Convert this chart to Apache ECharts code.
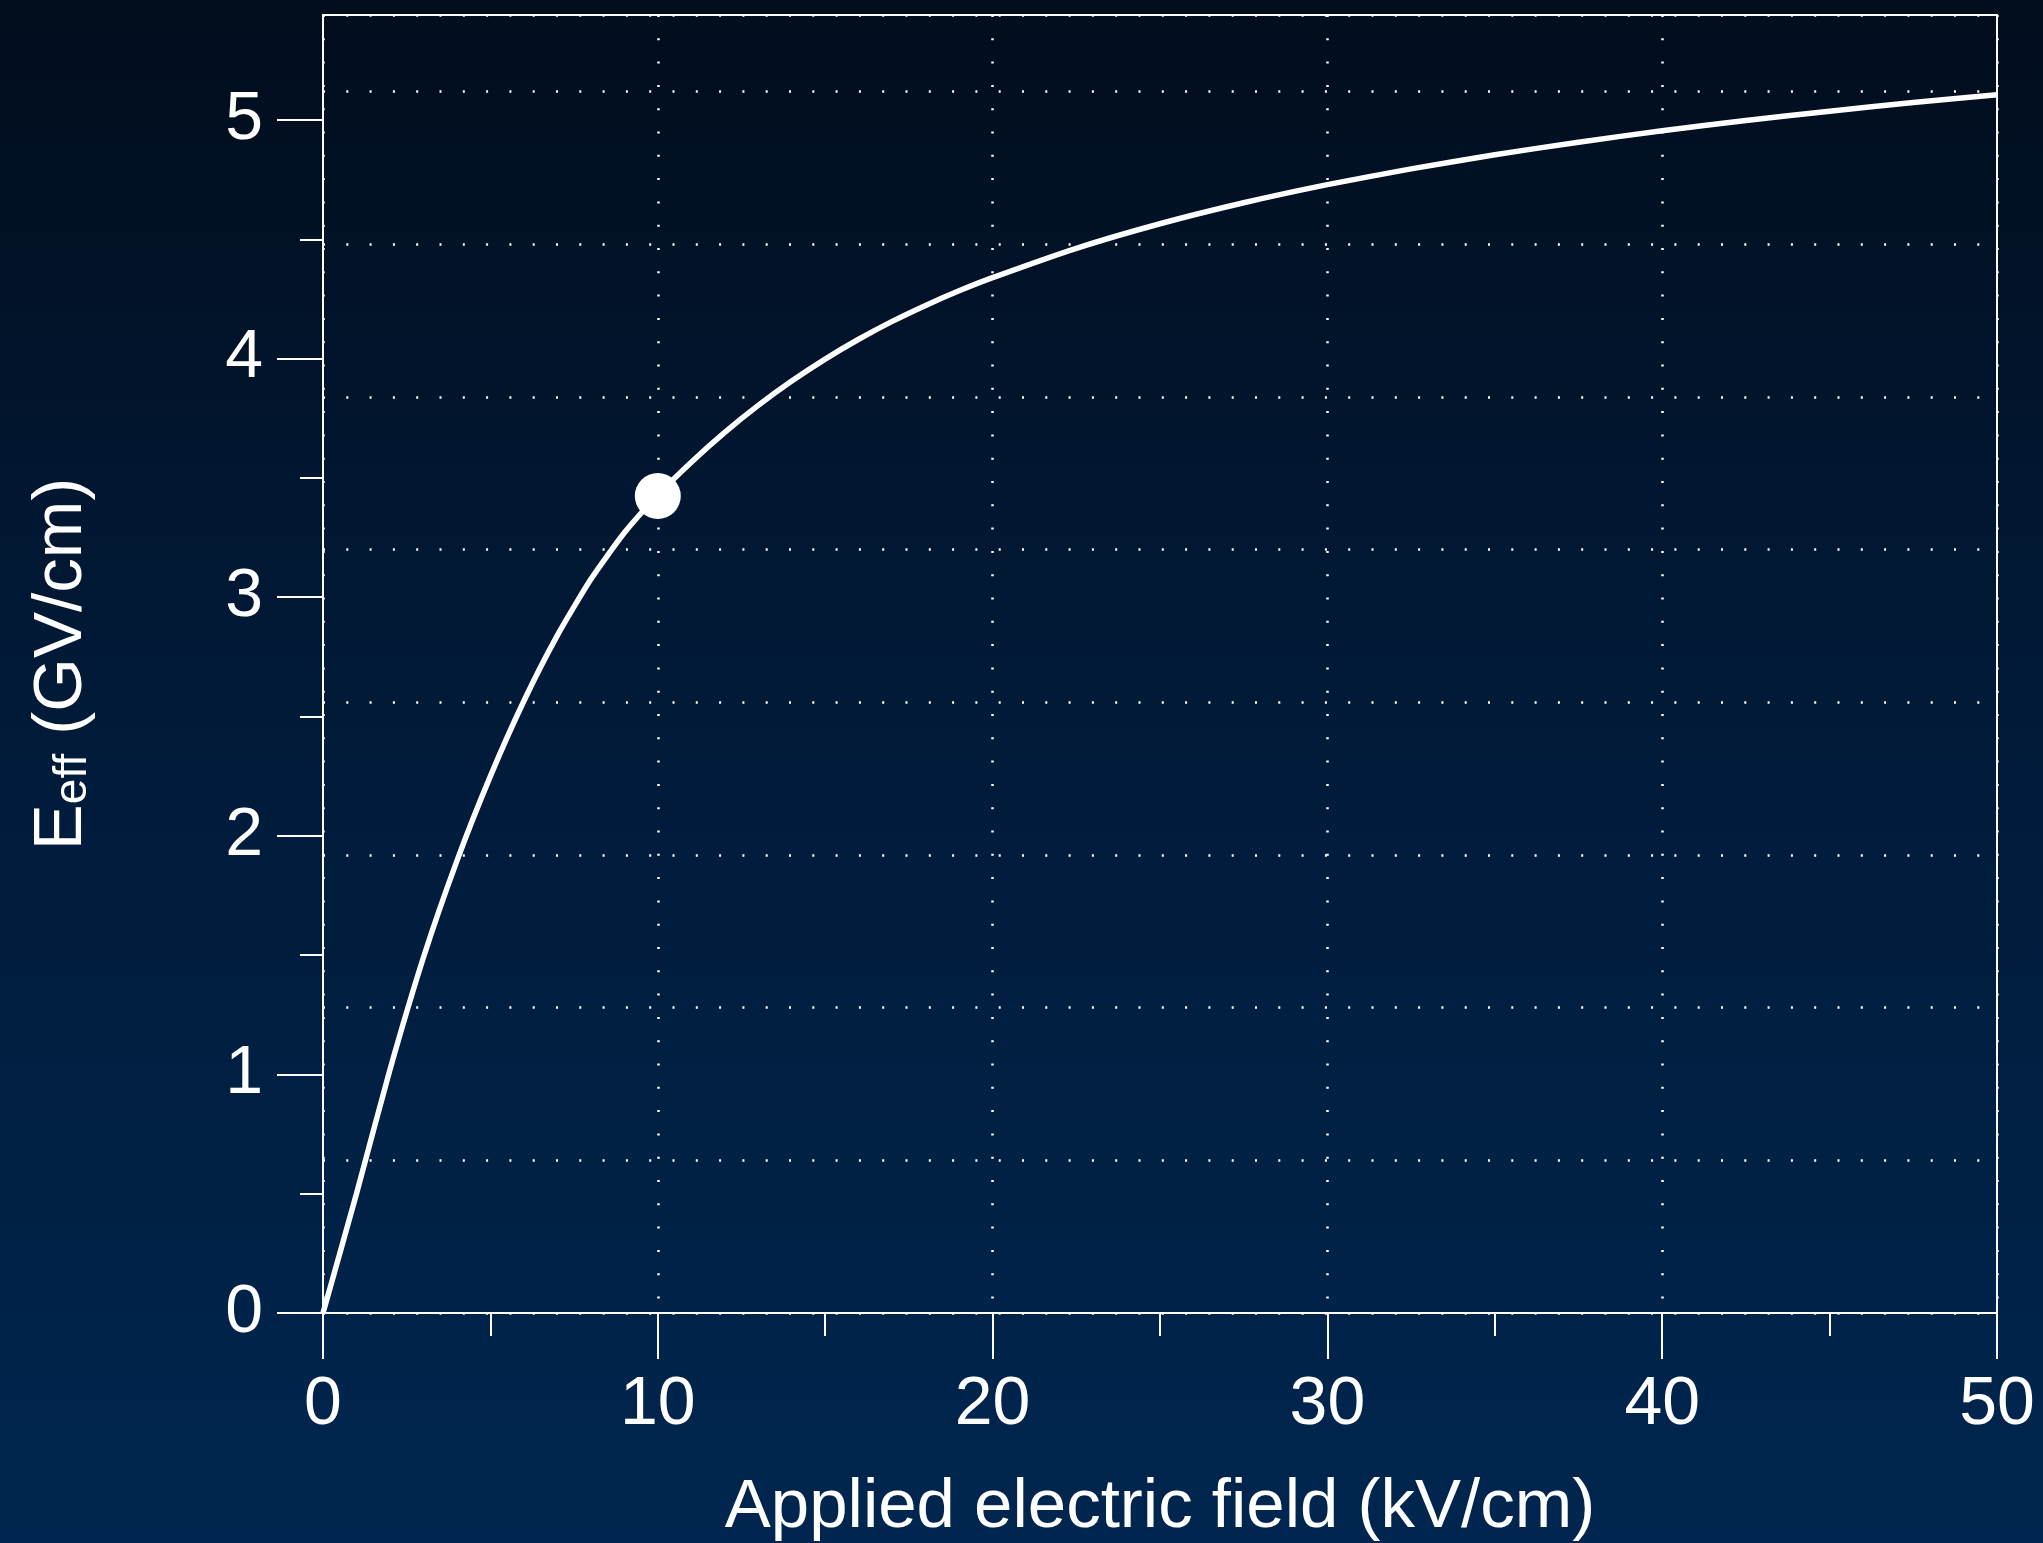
<!DOCTYPE html>
<html>
<head>
<meta charset="utf-8">
<script src="https://cdn.jsdelivr.net/npm/echarts@6/dist/echarts.min.js"></script>
<style>
html, body { margin: 0; padding: 0; }
#main { width: 2043px; height: 1543px; }
</style>
</head>
<body>
<div id="main"></div>
<script>
// curve data
var fieldKV = [0, 1, 2, 3, 4, 5, 6, 7, 8, 9,
    10, 11, 12, 13, 14, 15, 16, 17, 18, 19,
    20, 22.5, 25, 27.5, 30, 32.5, 35, 37.5, 40, 42.5, 45, 47.5, 50];
var eeffGV = [0, 0.50, 1.02, 1.49, 1.895, 2.25, 2.565, 2.84, 3.075, 3.27,
    3.428, 3.566, 3.691, 3.804, 3.906, 3.998, 4.081, 4.156, 4.223, 4.284,
    4.339, 4.462, 4.565, 4.653, 4.729, 4.795, 4.854, 4.907, 4.955, 4.998, 5.037, 5.073, 5.106];

// highlighted point
var markerField = [10];
var markerEeff = [3.424];

// y axis ticks and dotted grid
var yMajorTicks = [0, 1, 2, 3, 4, 5];
var yMinorTicks = [0.5, 1.5, 2.5, 3.5, 4.5];
var yGridStep = 0.64;
var yMax = 5.44;

var FONT = "'Liberation Sans', Arial, Helvetica, sans-serif";
var WHITE = '#ffffff';
var dots = { color: WHITE, width: 2.5, type: [2, 21.3] };

var curve = [];
for (var i = 0; i < fieldKV.length; i++) {
    curve.push([fieldKV[i], eeffGV[i]]);
}
var point = [];
for (var j = 0; j < markerField.length; j++) {
    point.push([markerField[j], markerEeff[j]]);
}

var myChart = echarts.init(document.getElementById('main'));

myChart.setOption({
    backgroundColor: {
        type: 'linear', x: 0, y: 0, x2: 0, y2: 1,
        colorStops: [
            { offset: 0, color: '#020d1d' },
            { offset: 0.45, color: '#011a38' },
            { offset: 1, color: '#00264f' }
        ]
    },
    animation: false,
    grid: {
        left: 323, top: 15, right: 46, bottom: 230,
        show: true, borderColor: WHITE, borderWidth: 2,
        backgroundColor: 'transparent',
        outerBoundsMode: 'none'
    },
    xAxis: {
        type: 'value', min: 0, max: 50, interval: 10,
        name: 'Applied electric field (kV/cm)',
        nameLocation: 'middle', nameGap: 160,
        nameTextStyle: { color: WHITE, fontSize: 69, fontFamily: FONT },
        axisLine: { lineStyle: { color: WHITE, width: 2 } },
        axisTick: { length: 46, lineStyle: { color: WHITE, width: 2 } },
        minorTick: { show: true, splitNumber: 2, length: 23, lineStyle: { color: WHITE, width: 2 } },
        axisLabel: { color: WHITE, fontSize: 68, fontFamily: FONT, margin: 58 },
        splitLine: { show: true, lineStyle: dots }
    },
    yAxis: [
        {
            // labels and long ticks
            type: 'value', min: 0, max: yMax,
            name: '{m|E}{s|eff}{m| (GV/cm)}',
            nameLocation: 'middle', nameGap: 227, nameRotate: 90,
            nameTextStyle: {
                color: WHITE, fontFamily: FONT,
                rich: {
                    m: { fontSize: 69, lineHeight: 69, verticalAlign: 'bottom', color: WHITE, fontFamily: FONT },
                    s: { fontSize: 46, lineHeight: 30, verticalAlign: 'bottom', color: WHITE, fontFamily: FONT }
                }
            },
            axisLine: { show: true, lineStyle: { color: WHITE, width: 2 } },
            axisTick: { show: true, length: 46, customValues: yMajorTicks, lineStyle: { color: WHITE, width: 2 } },
            axisLabel: { color: WHITE, fontSize: 68, fontFamily: FONT, margin: 60, customValues: yMajorTicks },
            splitLine: { show: false }
        },
        {
            // short ticks
            type: 'value', min: 0, max: yMax, position: 'left',
            axisLine: { show: false },
            axisTick: { show: true, length: 23, customValues: yMinorTicks, lineStyle: { color: WHITE, width: 2 } },
            axisLabel: { show: false },
            splitLine: { show: false }
        },
        {
            // dotted grid every 0.64
            type: 'value', min: 0, max: yMax, interval: yGridStep, position: 'left',
            axisLine: { show: false },
            axisTick: { show: false },
            axisLabel: { show: false },
            splitLine: { show: true, lineStyle: dots }
        }
    ],
    series: [
        {
            type: 'line',
            data: curve,
            smooth: 0.2,
            showSymbol: false,
            lineStyle: { color: WHITE, width: 5.5 },
            z: 3
        },
        {
            type: 'scatter',
            data: point,
            symbolSize: 46,
            itemStyle: { color: WHITE, opacity: 1 },
            z: 4
        }
    ]
});
</script>
</body>
</html>
